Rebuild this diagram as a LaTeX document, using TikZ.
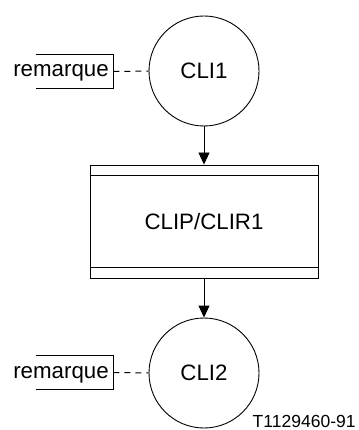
\documentclass[tikz,border=0pt]{standalone}
\usepackage{fontspec}
\setmainfont{Liberation Sans}
\usetikzlibrary{arrows.meta}
\begin{document}
\begin{tikzpicture}[x=1pt,y=-1pt,
  line width=0.9pt,
  state/.style={draw,circle,minimum size=110pt,inner sep=0pt,font=\fontsize{22.3}{26}\selectfont},
  procbox/.style={draw,rectangle,minimum width=228pt,minimum height=113pt,inner sep=0pt,font=\fontsize{22.3}{26}\selectfont},
  remtext/.style={inner sep=0pt,anchor=base,font=\fontsize{22.3}{26}\selectfont},
  bracket/.style={inner sep=0pt,minimum width=77pt,minimum height=33pt},
  flow/.style={-{Triangle[width=11pt,length=12pt]}},
  remline/.style={line width=1pt,dash pattern=on 6pt off 5pt}]
\useasboundingbox (0,0) rectangle (358,430);
% states
\node[state] (cli1) at (204,71) {CLI1};
\node[procbox] (clip) at (204,221.5) {CLIP/CLIR1};
\node[state] (cli2) at (204,373) {CLI2};
\draw ([yshift=-11pt]clip.north west) -- ([yshift=-11pt]clip.north east);
\draw ([yshift=11pt]clip.south west) -- ([yshift=11pt]clip.south east);
% arrows
\draw[flow] (cli1) -- (clip);
\draw[flow] (clip) -- (cli2);
% remarks
\node[remtext] (rem1) at (61,77) {remarque};
\node[bracket] (br1) at (74.5,71.5) {};
\draw (br1.north west) -- (br1.north east) -- (br1.south east) -- (br1.south west);
\draw[remline] (br1.east) -- (cli1.west);
\node[remtext] (rem2) at (61,378) {remarque};
\node[bracket] (br2) at (74.5,372.5) {};
\draw (br2.north west) -- (br2.north east) -- (br2.south east) -- (br2.south west);
\draw[remline] (br2.east) -- (cli2.west);
% label
\node[inner sep=0pt,anchor=base east,font=\fontsize{17.5}{20}\selectfont] (ref) at (356,427) {T1129460-91};
\end{tikzpicture}
\end{document}
